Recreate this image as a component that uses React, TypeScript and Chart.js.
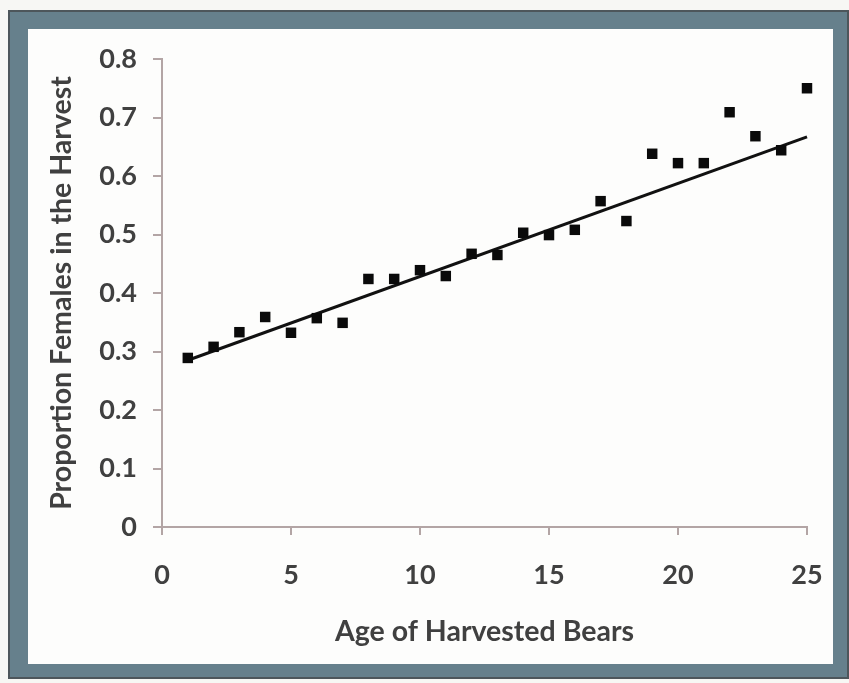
import React, { useEffect, useRef } from "react";
import { Chart, registerables } from "chart.js";

Chart.register(...registerables);

// Age of harvested bears (years)
const ages = [1, 2, 3, 4, 5, 6, 7, 8, 9, 10, 11, 12, 13, 14, 15, 16, 17, 18, 19, 20, 21, 22, 23, 24, 25];
// Proportion of females among the bears harvested at each age
const femaleShare = [
  0.289, 0.308, 0.333, 0.359, 0.332, 0.357, 0.349, 0.424, 0.424, 0.439, 0.429, 0.467, 0.465,
  0.503, 0.499, 0.508, 0.557, 0.523, 0.638, 0.622, 0.622, 0.709, 0.668, 0.644, 0.75,
];
// Linear trend line, start and end
const trendAges = [1, 25];
const trendShare = [0.285, 0.667];

const yTicks = [0, 0.1, 0.2, 0.3, 0.4, 0.5, 0.6, 0.7, 0.8];
const xTicks = [0, 5, 10, 15, 20, 25];

const TEXT = "#404040";
const AXIS = "#b3a5a5";
const FONT = "Lato, 'Open Sans', sans-serif";

export default function App() {
  const canvasRef = useRef<HTMLCanvasElement | null>(null);

  useEffect(() => {
    const canvas = canvasRef.current;
    if (!canvas) return;
    const chart = new Chart(canvas, {
      type: "scatter",
      data: {
        datasets: [
          {
            label: "Proportion females",
            data: ages.map((a, i) => ({ x: a, y: femaleShare[i] })),
            pointStyle: "rect",
            pointRadius: 7.4,
            pointHoverRadius: 7.4,
            backgroundColor: "#0a0a0a",
            borderWidth: 0,
            clip: false,
            order: 1,
          },
          {
            label: "Trend",
            type: "line",
            data: trendAges.map((a, i) => ({ x: a, y: trendShare[i] })),
            borderColor: "#111111",
            borderWidth: 3,
            pointRadius: 0,
            fill: false,
            clip: false,
            order: 2,
          },
        ],
      },
      options: {
        animation: false,
        responsive: false,
        maintainAspectRatio: false,
        layout: { padding: { left: 0, top: 59, right: 42, bottom: 16 } },
        plugins: {
          legend: { display: false },
          tooltip: { enabled: false },
        },
        scales: {
          x: {
            type: "linear",
            min: 0,
            max: 25,
            afterBuildTicks: (scale: any) => {
              scale.ticks = xTicks.map((v) => ({ value: v }));
            },
            afterFit: (scale: any) => {
              scale.height = 140;
            },
            border: { display: true, color: AXIS, width: 2 },
            grid: { drawOnChartArea: false, drawTicks: true, tickLength: 8, color: AXIS, lineWidth: 2 },
            ticks: {
              color: TEXT,
              padding: 24,
              maxRotation: 0,
              font: { family: FONT, size: 27, weight: "bold" },
              callback: (v: any) => String(v),
            },
            title: {
              display: true,
              text: "Age of Harvested Bears",
              color: TEXT,
              font: { family: FONT, size: 28.5, weight: "bold" },
              padding: { top: 0, bottom: 18 },
            },
          },
          y: {
            type: "linear",
            min: 0,
            max: 0.8,
            afterBuildTicks: (scale: any) => {
              scale.ticks = yTicks.map((v) => ({ value: v }));
            },
            afterFit: (scale: any) => {
              scale.width = 162;
            },
            border: { display: true, color: AXIS, width: 2 },
            grid: { drawOnChartArea: false, drawTicks: true, tickLength: 9, color: AXIS, lineWidth: 2 },
            ticks: {
              color: TEXT,
              padding: 16,
              font: { family: FONT, size: 27, weight: "bold" },
              callback: (v: any) => (v === 0 ? "0" : Number(v).toFixed(1)),
            },
            title: {
              display: true,
              text: "Proportion Females in the Harvest",
              color: TEXT,
              font: { family: FONT, size: 28.5, weight: "bold" },
              padding: { top: 45, bottom: 0 },
            },
          },
        },
      },
    });
    return () => chart.destroy();
  }, []);

  return (
    <div style={{ position: "fixed", left: 0, top: 0, width: 849, height: 683, overflow: "hidden", background: "#f7f7f4" }}>
      <div style={{ position: "absolute", left: 8, top: 10, width: 841, height: 669, background: "#4d565b" }} />
      <div style={{ position: "absolute", left: 10, top: 12, width: 837, height: 665, background: "#66808c" }} />
      <div style={{ position: "absolute", left: 28, top: 29, width: 805, height: 635, background: "#fdfdfc" }} />
      <canvas ref={canvasRef} width={849} height={683} style={{ position: "absolute", left: 0, top: 0, width: 849, height: 683 }} />
    </div>
  );
}
